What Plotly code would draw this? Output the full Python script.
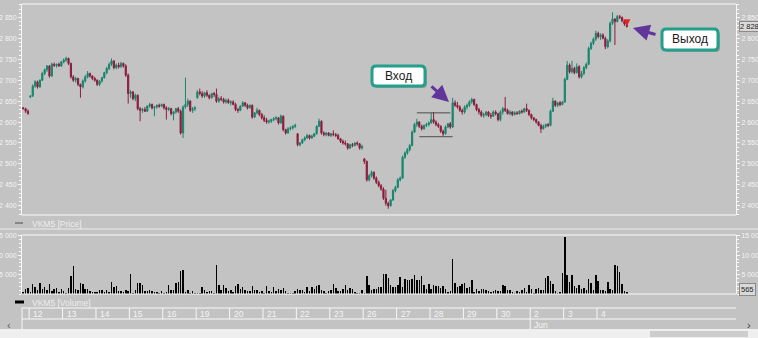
import plotly.graph_objects as go

# ---------------- data ----------------
day_labels = ["", "12", "13", "14", "15", "16", "19", "20", "21", "22", "23",
              "26", "27", "28", "29", "30", "2", "3", "4"]
day_counts = [3, 14, 14, 14, 14, 14, 14, 14, 14, 14, 14, 14, 14, 14, 14, 14, 14, 14, 13]
month_labels = {"2": "Jun"}

opens = [2634, 2632, 2626,
         2660, 2662, 2686, 2696, 2684, 2700, 2716, 2725, 2734, 2710, 2738, 2735, 2738, 2734,
         2744, 2748, 2752, 2740, 2708, 2700, 2704, 2690, 2684, 2698, 2708, 2716, 2710, 2704,
         2700, 2690, 2698, 2706, 2718, 2728, 2738, 2746, 2730, 2736, 2732, 2740, 2734, 2712,
         2668, 2672, 2656, 2664, 2632, 2628, 2630, 2626, 2638, 2642, 2634, 2636, 2640, 2638,
         2642, 2634, 2630, 2632, 2620, 2624, 2632, 2626, 2574, 2636, 2642, 2650, 2628, 2632,
         2658, 2672, 2668, 2662, 2670, 2664, 2658, 2668, 2666, 2650, 2656, 2654, 2648, 2652,
         2646, 2648, 2642, 2630, 2628, 2638, 2646, 2640, 2634, 2640, 2612, 2622, 2628, 2618,
         2610, 2604, 2600, 2602, 2606, 2608, 2610, 2598, 2614, 2582, 2574, 2584, 2586, 2590,
         2572, 2546, 2550, 2558, 2562, 2568, 2562, 2566, 2572, 2590, 2602, 2574, 2570, 2574,
         2568, 2572, 2570, 2568, 2560, 2554, 2550, 2548, 2538, 2546, 2544, 2550, 2548, 2538,
         2512, 2506, 2462, 2472, 2480, 2466, 2456, 2448, 2440, 2418, 2406, 2400, 2414, 2436,
         2444, 2462, 2466, 2516, 2526, 2534, 2544, 2576, 2594, 2600, 2590, 2584, 2592, 2594,
         2598, 2606, 2600, 2594, 2590, 2578, 2572, 2588, 2596, 2588, 2646, 2640, 2636, 2628,
         2624, 2636, 2640, 2648, 2654, 2642, 2630, 2624, 2616, 2618, 2624, 2616, 2614, 2624,
         2620, 2606, 2624, 2632, 2628, 2620, 2624, 2618, 2622, 2620, 2626, 2624, 2632, 2628,
         2618, 2610, 2606, 2600, 2592, 2584, 2590, 2594, 2592, 2626, 2650, 2640, 2646, 2642,
         2648, 2702, 2736, 2720, 2728, 2718, 2732, 2708, 2716, 2730, 2738, 2776, 2788, 2798,
         2812, 2804, 2808, 2800, 2780, 2794, 2836, 2846, 2840, 2852, 2850, 2842, 2834]

highs = [2636, 2634, 2630,
         2664, 2690, 2700, 2699, 2702, 2720, 2728, 2736, 2736, 2742, 2742, 2740, 2742, 2746,
         2752, 2756, 2754, 2742, 2712, 2708, 2706, 2692, 2702, 2712, 2722, 2718, 2712, 2708,
         2702, 2700, 2708, 2720, 2732, 2742, 2752, 2748, 2740, 2742, 2744, 2742, 2738, 2716,
         2676, 2674, 2668, 2666, 2636, 2634, 2636, 2640, 2646, 2644, 2638, 2642, 2644, 2644,
         2644, 2638, 2636, 2634, 2626, 2634, 2636, 2630, 2640, 2706, 2656, 2652, 2636, 2638,
         2676, 2680, 2674, 2672, 2676, 2666, 2670, 2672, 2680, 2660, 2662, 2658, 2656, 2656,
         2652, 2652, 2646, 2634, 2640, 2650, 2648, 2644, 2642, 2642, 2624, 2634, 2630, 2622,
         2616, 2610, 2606, 2608, 2612, 2614, 2612, 2618, 2616, 2584, 2588, 2590, 2592, 2596,
         2574, 2552, 2560, 2566, 2572, 2570, 2570, 2574, 2592, 2608, 2604, 2578, 2576, 2576,
         2574, 2580, 2574, 2572, 2562, 2558, 2556, 2550, 2548, 2550, 2552, 2554, 2550, 2546,
         2514, 2508, 2476, 2484, 2482, 2470, 2460, 2452, 2444, 2438, 2410, 2416, 2440, 2448,
         2466, 2470, 2520, 2530, 2538, 2548, 2580, 2598, 2608, 2602, 2594, 2594, 2598, 2602,
         2622, 2624, 2604, 2598, 2592, 2582, 2592, 2598, 2600, 2658, 2652, 2648, 2640, 2632,
         2640, 2644, 2652, 2658, 2656, 2644, 2634, 2628, 2622, 2626, 2626, 2622, 2628, 2628,
         2622, 2628, 2636, 2660, 2632, 2628, 2626, 2626, 2626, 2628, 2630, 2634, 2644, 2630,
         2620, 2612, 2608, 2602, 2596, 2594, 2596, 2598, 2630, 2658, 2652, 2648, 2650, 2650,
         2706, 2746, 2740, 2746, 2732, 2740, 2736, 2722, 2734, 2742, 2780, 2792, 2802, 2818,
         2816, 2812, 2812, 2804, 2798, 2840, 2862, 2848, 2856, 2856, 2852, 2844, 2836]

lows = [2630, 2622, 2618,
        2657, 2660, 2682, 2680, 2682, 2698, 2712, 2720, 2706, 2708, 2732, 2730, 2732, 2732,
        2740, 2744, 2736, 2704, 2696, 2694, 2686, 2658, 2680, 2694, 2704, 2706, 2700, 2696,
        2686, 2686, 2694, 2704, 2714, 2724, 2734, 2726, 2726, 2728, 2730, 2730, 2708, 2644,
        2658, 2652, 2650, 2628, 2602, 2622, 2624, 2624, 2634, 2630, 2614, 2632, 2634, 2636,
        2630, 2606, 2626, 2616, 2604, 2620, 2622, 2570, 2562, 2632, 2636, 2624, 2622, 2626,
        2656, 2664, 2658, 2658, 2660, 2654, 2656, 2660, 2646, 2646, 2650, 2644, 2644, 2644,
        2640, 2640, 2626, 2622, 2626, 2636, 2636, 2630, 2632, 2608, 2610, 2618, 2614, 2606,
        2600, 2596, 2596, 2598, 2602, 2604, 2594, 2596, 2578, 2570, 2572, 2580, 2582, 2586,
        2542, 2542, 2548, 2554, 2560, 2558, 2560, 2564, 2570, 2588, 2570, 2566, 2566, 2566,
        2564, 2566, 2564, 2558, 2550, 2546, 2544, 2534, 2536, 2540, 2542, 2544, 2534, 2534,
        2500, 2458, 2458, 2468, 2462, 2452, 2444, 2436, 2414, 2400, 2393, 2398, 2412, 2432,
        2442, 2458, 2464, 2512, 2522, 2530, 2542, 2574, 2588, 2586, 2580, 2582, 2588, 2590,
        2596, 2596, 2590, 2586, 2574, 2566, 2570, 2586, 2584, 2586, 2636, 2632, 2624, 2618,
        2620, 2630, 2636, 2644, 2638, 2626, 2618, 2612, 2610, 2614, 2612, 2608, 2612, 2616,
        2602, 2602, 2618, 2624, 2618, 2616, 2614, 2616, 2618, 2618, 2620, 2622, 2624, 2614,
        2606, 2602, 2596, 2590, 2574, 2582, 2586, 2588, 2590, 2624, 2636, 2636, 2638, 2640,
        2646, 2700, 2716, 2716, 2714, 2716, 2704, 2704, 2712, 2726, 2736, 2772, 2784, 2794,
        2800, 2796, 2798, 2774, 2776, 2790, 2832, 2784, 2838, 2846, 2838, 2830, 2826]

closes = [2632, 2626, 2620,
          2662, 2686, 2696, 2684, 2700, 2716, 2725, 2734, 2710, 2738, 2735, 2738, 2734, 2744,
          2748, 2752, 2740, 2708, 2700, 2704, 2690, 2684, 2698, 2708, 2716, 2710, 2704, 2700,
          2690, 2698, 2706, 2718, 2728, 2738, 2746, 2730, 2736, 2732, 2740, 2734, 2712, 2668,
          2672, 2656, 2664, 2632, 2628, 2630, 2626, 2638, 2642, 2634, 2636, 2640, 2638, 2642,
          2634, 2630, 2632, 2620, 2624, 2632, 2626, 2574, 2636, 2642, 2650, 2628, 2632, 2634,
          2672, 2668, 2662, 2670, 2664, 2658, 2668, 2666, 2650, 2656, 2654, 2648, 2652, 2646,
          2648, 2642, 2630, 2628, 2638, 2646, 2640, 2634, 2640, 2612, 2622, 2628, 2618, 2610,
          2604, 2600, 2602, 2606, 2608, 2610, 2598, 2614, 2582, 2574, 2584, 2586, 2590, 2592,
          2546, 2550, 2558, 2562, 2568, 2562, 2566, 2572, 2590, 2602, 2574, 2570, 2574, 2568,
          2572, 2570, 2568, 2560, 2554, 2550, 2548, 2538, 2546, 2544, 2550, 2548, 2538, 2542,
          2506, 2462, 2472, 2480, 2466, 2456, 2448, 2440, 2418, 2406, 2400, 2414, 2436, 2444,
          2462, 2466, 2516, 2526, 2534, 2544, 2576, 2594, 2600, 2590, 2584, 2592, 2594, 2598,
          2606, 2600, 2594, 2590, 2578, 2572, 2588, 2596, 2588, 2646, 2640, 2636, 2628, 2624,
          2636, 2640, 2648, 2654, 2642, 2630, 2624, 2616, 2618, 2624, 2616, 2614, 2624, 2620,
          2606, 2624, 2632, 2628, 2620, 2624, 2618, 2622, 2620, 2626, 2624, 2632, 2628, 2618,
          2610, 2606, 2600, 2592, 2584, 2590, 2594, 2592, 2626, 2650, 2640, 2646, 2642, 2648,
          2702, 2736, 2720, 2728, 2718, 2732, 2708, 2716, 2730, 2738, 2776, 2788, 2798, 2812,
          2804, 2808, 2800, 2780, 2794, 2836, 2846, 2840, 2852, 2850, 2842, 2834, 2828]

volumes = ([520, 1380, 1550, 520, 2680, 1810, 1120, 2940, 1380, 1810, 950, 2500, 690, 1210,
            1550, 520, 1210, 690, 300, 1550, 4660, 7250,
            1380, 950, 2940, 2500, 1210, 1210, 690, 520, 520, 520, 1120, 950, 520, 950, 520,
            3110, 1810, 2070, 780, 690, 520, 950, 690, 5090,
            300, 1120, 2940, 2940, 2250, 780, 780, 950, 690, 520, 520, 350, 690, 350, 520, 2250]
           + [950, 950, 2850, 3110, 5960, 6130,
              520, 1120, 260, 690, 350, 260, 350, 1810, 950, 520, 690, 690, 350, 7420,
              2420, 950, 2250, 1550, 690, 1120, 520, 1990, 2500, 1380, 1810, 950, 690, 690,
              1990, 950, 950, 520, 690, 350, 1990, 690, 520, 1810, 690, 1210, 950, 1550, 690,
              350, 260, 350, 690, 1380, 1120, 950, 520, 1810, 690, 1810, 1380, 2070, 2250]
           + [950, 690, 350, 690, 950, 2680, 1550, 690, 690, 1380, 2420, 950, 1550, 1210, 520,
              350, 350, 950, 260, 4580,
              2250, 1120, 1210, 1380, 1810, 1810, 5270, 5270, 4230, 2420, 1810, 1810, 2250,
              4400, 1810, 3970, 3710, 3710, 3970, 4840, 3540, 3710, 4580, 2250, 1380, 2500,
              1210, 2420, 1990, 1990, 1550, 1990, 1380, 520, 690, 8980,
              2940, 1810, 1990, 2500, 2940, 1550, 1810]
           + [3540, 520, 1380, 690, 1380, 1210, 950, 690, 520, 690, 950, 690, 690, 2250, 2070,
              950, 950, 520, 350, 690, 520, 950, 1550, 520, 2250, 1210, 350, 1210, 1550, 950,
              950, 4230, 4660, 3370, 2500, 690, 350, 520, 5530, 14760,
              4840, 3110, 4840, 2070, 1550, 2420, 1380, 1640, 950, 3800, 2940, 950, 5010, 3370,
              950, 950, 690, 3110, 1210, 950, 7600, 7250, 5700, 2680, 690, 565])

price_ticks = [2400, 2450, 2500, 2550, 2600, 2650, 2700, 2750, 2800, 2850]
price_tick_text = ["2 400", "2 450", "2 500", "2 550", "2 600", "2 650", "2 700", "2 750",
                   "2 800", "2 850"]
vol_ticks = [5000, 10000, 15000]
vol_tick_text = ["5 000", "10 000", "15 000"]

last_price = 2828
last_volume = 565
range_start, range_end = 165, 181          # consolidation box (candle indexes)
range_high, range_low = 2622, 2565
exit_idx, exit_price = 253, 2829
entry_label, exit_label = "Вход", "Выход"
price_legend, volume_legend = "VKM5 [Price]", "VKM5 [Volume]"

n = len(closes)
assert n == sum(day_counts) == len(opens) == len(highs) == len(lows) == len(volumes), \
    (n, sum(day_counts), len(opens), len(highs), len(lows), len(volumes))
x = list(range(n))

# ---------------- style / geometry ----------------
W, H = 758, 338
L_PX, R_PX = 22, 736
BG = "#c3c3c3"
LINE = "#f8f8f8"
TXT = "#f4f4f4"
GREEN = "#16866b"
RED = "#8d1c3d"
FONT = "Liberation Sans, Arial, sans-serif"
TICK_SIZE = 7
SLOT_PX = 2.386


def pxx(p):
    return (p - L_PX) / (R_PX - L_PX)


def pxy(p):
    return 1 - p / H


x_range = [-0.5, (R_PX - L_PX) / SLOT_PX - 0.5]

fig = go.Figure()
fig.add_trace(go.Candlestick(
    x=x, open=opens, high=highs, low=lows, close=closes,
    increasing=dict(line=dict(color=GREEN, width=1), fillcolor=GREEN),
    decreasing=dict(line=dict(color=RED, width=1), fillcolor=RED),
    whiskerwidth=0, xaxis="x", yaxis="y", hoverinfo="skip", showlegend=False))
fig.add_trace(go.Bar(x=x, y=volumes, marker=dict(color="#000000", line=dict(width=0)),
                     width=0.62, xaxis="x2", yaxis="y2", hoverinfo="skip", showlegend=False))
fig.add_trace(go.Scatter(x=[exit_idx], y=[exit_price], mode="markers",
                         marker=dict(symbol="arrow-down", size=7, color="#e3241b",
                                     line=dict(width=0)),
                         xaxis="x", yaxis="y", hoverinfo="skip", showlegend=False))
# carriers for the left-hand mirror axes
fig.add_trace(go.Scatter(x=[x[0]], y=[closes[0]], mode="markers", marker=dict(opacity=0),
                         xaxis="x", yaxis="y3", hoverinfo="skip", showlegend=False))
fig.add_trace(go.Scatter(x=[x[0]], y=[volumes[0]], mode="markers", marker=dict(opacity=0),
                         xaxis="x2", yaxis="y4", hoverinfo="skip", showlegend=False))

price_dom = [pxy(215), pxy(4)]
vol_dom = [pxy(294), pxy(235)]
p_range = [2378, 2882]
v_range = [0, 15200]


def yax(side, dom, rng, tv, tt, mdt, **kw):
    d = dict(domain=dom, range=rng, side=side, tickmode="array", tickvals=tv, ticktext=tt,
             showgrid=False, zeroline=False, showline=True, linecolor=LINE, linewidth=1,
             ticks="outside", ticklen=3, tickwidth=1, tickcolor=LINE, ticklabelstandoff=0,
             tickfont=dict(size=TICK_SIZE, color=TXT, family=FONT), automargin=False,
             fixedrange=True,
             minor=dict(ticks="outside", ticklen=2, tickcolor=LINE, tickmode="linear",
                        tick0=0, dtick=mdt, showgrid=False))
    d.update(kw)
    return d


fig.update_layout(
    width=W, height=H, margin=dict(l=L_PX, r=W - R_PX, t=0, b=0, pad=0),
    paper_bgcolor=BG, plot_bgcolor=BG, showlegend=False, template="none",
    font=dict(family=FONT, size=9, color=TXT),
    xaxis=dict(domain=[0, 1], range=x_range, visible=False, anchor="y",
               rangeslider=dict(visible=False), fixedrange=True),
    xaxis2=dict(domain=[0, 1], range=x_range, visible=False, anchor="y2", matches="x",
                fixedrange=True),
    yaxis=yax("right", price_dom, p_range, price_ticks, price_tick_text, 10, anchor="x"),
    yaxis2=yax("right", vol_dom, v_range, vol_ticks, vol_tick_text, 1000, anchor="x2"),
    yaxis3=yax("left", price_dom, p_range, price_ticks, price_tick_text, 10,
               overlaying="y", anchor="x"),
    yaxis4=yax("left", vol_dom, v_range, vol_ticks, vol_tick_text, 1000,
               overlaying="y2", anchor="x2"),
    bargap=0,
)

shapes = []
ann = []


def pline(x0, y0, x1, y1, color=LINE, width=1):
    shapes.append(dict(type="line", xref="paper", yref="paper", x0=pxx(x0), x1=pxx(x1),
                       y0=pxy(y0), y1=pxy(y1), line=dict(color=color, width=width)))


def rrect_path(x0, y0, x1, y1, r):
    X = pxx
    Y = pxy
    return (f"M {X(x0 + r)},{Y(y0)} L {X(x1 - r)},{Y(y0)} Q {X(x1)},{Y(y0)} {X(x1)},{Y(y0 + r)} "
            f"L {X(x1)},{Y(y1 - r)} Q {X(x1)},{Y(y1)} {X(x1 - r)},{Y(y1)} "
            f"L {X(x0 + r)},{Y(y1)} Q {X(x0)},{Y(y1)} {X(x0)},{Y(y1 - r)} "
            f"L {X(x0)},{Y(y0 + r)} Q {X(x0)},{Y(y0)} {X(x0 + r)},{Y(y0)} Z")


# panel frames
pline(L_PX, 4, R_PX, 4)
pline(L_PX, 215, R_PX, 215)
pline(0, 229, W, 229, color="#ececec")
pline(L_PX, 235, R_PX, 235)
pline(L_PX, 294, R_PX, 294)

# legends of the panels
pline(15, 223, 23, 223, color="#4a4a4a", width=1)
ann.append(dict(text=price_legend, xref="paper", yref="paper", x=pxx(30), y=pxy(223.5),
                xanchor="left", yanchor="middle", showarrow=False,
                font=dict(size=8.5, color="#eeeeee", family=FONT)))
pline(15, 302, 24, 302, color="#000000", width=3)
ann.append(dict(text=volume_legend, xref="paper", yref="paper", x=pxx(30), y=pxy(302.5),
                xanchor="left", yanchor="middle", showarrow=False,
                font=dict(size=8.5, color="#eeeeee", family=FONT)))

# date band
pline(L_PX, 308, R_PX, 308)
pline(L_PX, 319, R_PX, 319)
pline(L_PX, 308, L_PX, 329)
start = 0
for lab, cnt in zip(day_labels, day_counts):
    if lab:
        shapes.append(dict(type="line", xref="x", yref="paper", x0=start - 0.5, x1=start - 0.5,
                           y0=pxy(319), y1=pxy(308), line=dict(color=LINE, width=1)))
        ann.append(dict(text=lab, xref="x", yref="paper", x=start - 0.5, y=pxy(313.8),
                        xanchor="left", yanchor="middle", xshift=2, showarrow=False,
                        font=dict(size=8.5, color=TXT, family=FONT)))
        if lab in month_labels:
            shapes.append(dict(type="line", xref="x", yref="paper", x0=start - 0.5,
                               x1=start - 0.5, y0=pxy(329), y1=pxy(319),
                               line=dict(color=LINE, width=1)))
            ann.append(dict(text=month_labels[lab], xref="x", yref="paper", x=start - 0.5,
                            y=pxy(324.5), xanchor="left", yanchor="middle", xshift=2,
                            showarrow=False, font=dict(size=8.5, color=TXT, family=FONT)))
    start += cnt

# scrollbar
shapes.append(dict(type="rect", xref="paper", yref="paper", x0=pxx(0), x1=pxx(W),
                   y0=pxy(H), y1=pxy(329), fillcolor="#efefef", line=dict(width=0),
                   layer="above"))
shapes.append(dict(type="rect", xref="paper", yref="paper", x0=pxx(650), x1=pxx(748),
                   y0=pxy(337), y1=pxy(331), fillcolor="#cdcdcd", line=dict(width=0),
                   layer="above"))
ann.append(dict(text="‹", xref="paper", yref="paper", x=pxx(5), y=pxy(333), showarrow=False,
                font=dict(size=11, color="#606060", family=FONT)))
ann.append(dict(text="›", xref="paper", yref="paper", x=pxx(753), y=pxy(333), showarrow=False,
                font=dict(size=11, color="#404040", family=FONT)))

# consolidation range lines
shapes.append(dict(type="line", xref="x", yref="y", x0=range_start, x1=range_end - 2,
                   y0=range_high, y1=range_high, line=dict(color="#4d4d4d", width=1)))
shapes.append(dict(type="line", xref="x", yref="y", x0=range_start + 1, x1=range_end - 1,
                   y0=range_low, y1=range_low, line=dict(color="#4d4d4d", width=1)))

# last value boxes
ann.append(dict(text=f"{last_price:,}".replace(",", " "), xref="paper", yref="y", x=1,
                y=last_price, xanchor="left", yanchor="middle", xshift=3, showarrow=False,
                bgcolor="#d9d9d9", bordercolor="#8a8a8a", borderwidth=1, borderpad=0,
                font=dict(size=TICK_SIZE + 0.5, color="#1e1e1e", family=FONT)))
ann.append(dict(text=f"{last_volume}", xref="paper", yref="y2", x=1, y=last_volume + 500,
                xanchor="left", yanchor="middle", xshift=3, showarrow=False,
                bgcolor="#d9d9d9", bordercolor="#8a8a8a", borderwidth=1, borderpad=1,
                font=dict(size=TICK_SIZE + 0.5, color="#1e1e1e", family=FONT)))

# callout boxes
TEAL = "#23a08b"
PURPLE = "#62359a"
for (bx0, by0, bx1, by1, label) in [(372, 66, 425, 86, entry_label),
                                    (662, 29, 718, 50, exit_label)]:
    shapes.append(dict(type="path", xref="paper", yref="paper",
                       path=rrect_path(bx0 + 2, by0 + 2, bx1 + 2, by1 + 2, 4),
                       fillcolor="rgba(60,60,60,0.30)", line=dict(width=0), layer="above"))
    shapes.append(dict(type="path", xref="paper", yref="paper",
                       path=rrect_path(bx0, by0, bx1, by1, 4),
                       fillcolor="#ffffff", line=dict(color=TEAL, width=3), layer="above"))
    ann.append(dict(text=label, xref="paper", yref="paper", x=pxx((bx0 + bx1) / 2),
                    y=pxy((by0 + by1) / 2), xanchor="center", yanchor="middle",
                    showarrow=False, font=dict(size=12, color="#1a1a1a", family=FONT)))

# arrows
for (tx, ty, sx, sy) in [(449, 102, 430, 85), (633, 28, 657, 35)]:
    ann.append(dict(text="", xref="paper", yref="paper", x=pxx(tx), y=pxy(ty),
                    ax=sx - tx, ay=sy - ty, showarrow=True, arrowhead=2, arrowsize=1.1,
                    arrowwidth=3, arrowcolor=PURPLE, standoff=0, startstandoff=0))

fig.update_layout(shapes=shapes, annotations=ann)
fig.write_html("out.html", config={"displayModeBar": False, "staticPlot": True})
